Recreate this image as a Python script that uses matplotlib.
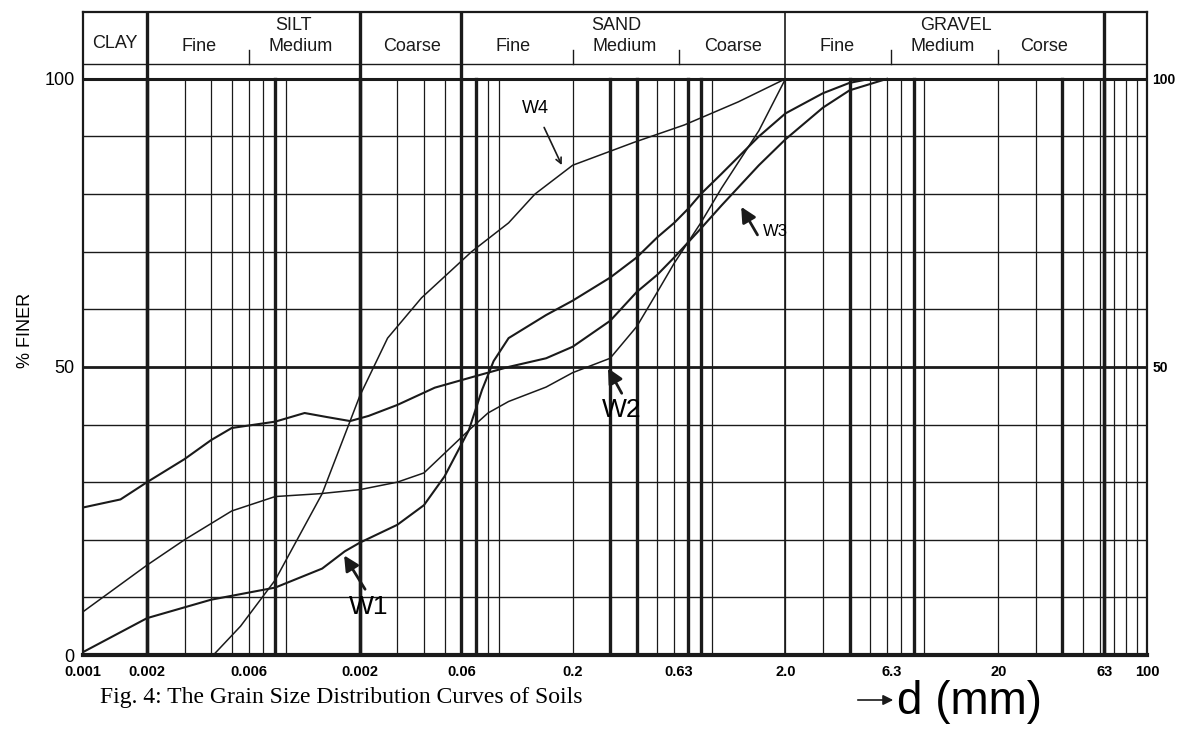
import numpy as np
import matplotlib
matplotlib.use("Agg")
import matplotlib.pyplot as plt

# ─── Curve data: grain size d (mm) vs % finer ───────────────
W1_D = [0.001, 0.002, 0.004, 0.008, 0.0133, 0.017, 0.02, 0.03, 0.04, 0.05, 0.065, 0.075,
        0.085, 0.1, 0.15, 0.2, 0.3, 0.4, 0.5, 0.6, 0.7, 0.8, 1.0, 1.5, 2.0, 3.0, 4.0, 5.0]
W1_P = [0.5, 6.4, 9.6, 11.7, 15, 18, 19.5, 22.6, 26, 31, 39, 46,
        51, 55, 59, 61.5, 65.5, 69, 72.5, 75, 77.5, 80, 83.5, 90, 94, 97.5, 99.3, 100]

W2_D = [0.001, 0.002, 0.003, 0.005, 0.008, 0.013, 0.02, 0.03, 0.04, 0.065, 0.08, 0.1,
        0.15, 0.2, 0.3, 0.4, 0.5, 0.6, 0.8, 1.0, 1.5, 2.0]
W2_P = [7.5, 15.6, 20, 25, 27.5, 28, 28.7, 30, 31.6, 39, 42, 44,
        46.5, 49, 51.5, 57, 63, 68, 75, 81, 91, 100]

W3_D = [0.001, 0.0015, 0.002, 0.003, 0.004, 0.005, 0.008, 0.011, 0.014, 0.018, 0.022,
        0.03, 0.045, 0.07, 0.1, 0.15, 0.2, 0.3, 0.4, 0.5, 0.6, 0.8, 1.0, 1.5, 2.0,
        3.0, 4.0, 6.0]
W3_P = [25.6, 27, 30, 34, 37.3, 39.4, 40.5, 42, 41.3, 40.6, 41.5,
        43.4, 46.4, 48.4, 50, 51.5, 53.5, 58, 63, 66, 69, 74, 78, 85, 89.5,
        95, 98, 100]

W4_D = [0.0041, 0.0055, 0.008, 0.0133, 0.02, 0.027, 0.039, 0.067, 0.1, 0.133, 0.2,
        0.39, 0.67, 1.2, 2.0]
W4_P = [0, 5, 13, 28, 45, 55, 62, 70, 75, 80, 85, 89, 92, 96, 100]

# ─── Axis labels / zones ────────────────────────────────────
X_TICKS = [0.001, 0.002, 0.006, 0.02, 0.06, 0.2, 0.63, 2.0, 6.3, 20, 63, 100]
X_LABELS = ["0.001", "0.002", "0.006", "0.002", "0.06", "0.2", "0.63", "2.0",
            "6.3", "20", "63", "100"]

ZONE_DIVS = [0.002, 0.02, 0.06, 2.0, 63]          # full-height header dividers
SUB_DIVS = [0.006, 0.2, 0.63, 6.3, 20]            # short header ticks
MAIN_ZONES = [("CLAY", 0.00141), ("SILT", 0.0098), ("SAND", 0.32), ("GRAVEL", 12.7)]
SUB_ZONES = [("Fine", 0.0035), ("Medium", 0.0105), ("Coarse", 0.035),
             ("Fine", 0.105), ("Medium", 0.35), ("Coarse", 1.13),
             ("Fine", 3.5), ("Medium", 11), ("Corse", 33)]

THICK_X = [0.002, 0.008, 0.02, 0.07, 0.3, 0.4, 0.7, 0.8, 4, 8, 10, 40, 63]

LINE = "#1a1a1a"

fig = plt.figure(figsize=(11.92, 7.53), dpi=100)
ax = fig.add_axes([83 / 1192, 1 - 655 / 753, (1147 - 83) / 1192, (655 - 12) / 753])
ax.set_xscale("log")
ax.set_xlim(0.001, 100)
ax.set_ylim(0, 111.6)
for s in ax.spines.values():
    s.set_linewidth(1.6)
    s.set_color(LINE)
ax.spines["bottom"].set_linewidth(3.0)

# vertical grid (log paper)
for k in range(-3, 2):
    for m in range(2, 10):
        x = m * 10.0 ** k
        lw = 2.4 if any(abs(x - t) / t < 1e-6 for t in THICK_X) else 0.9
        ax.plot([x, x], [0, 100], color=LINE, lw=lw, zorder=1)
ax.plot([63, 63], [0, 100], color=LINE, lw=2.4, zorder=1)

# horizontal grid
for p in range(10, 100, 10):
    ax.axhline(p, color=LINE, lw=2.0 if p == 50 else 1.0, zorder=1)
ax.axhline(100, color=LINE, lw=2.2, zorder=1)
ax.axhline(102.6, color=LINE, lw=1.0, zorder=1)

# header dividers
for x in ZONE_DIVS:
    ax.plot([x, x], [0, 111.6], color=LINE, lw=2.4 if x != 2.0 else 1.2, zorder=2)
for x in SUB_DIVS:
    ax.plot([x, x], [102.6, 105.0], color=LINE, lw=1.0, zorder=2)

hdr = dict(family="Liberation Sans", fontsize=13, ha="center", va="center", color=LINE)
for name, x in MAIN_ZONES:
    y = 106.2 if name == "CLAY" else 109.3
    ax.text(x, y, name, **hdr)
for name, x in SUB_ZONES:
    ax.text(x, 105.6, name, **hdr)

# curves
for d, p, lw in [(W1_D, W1_P, 1.5), (W2_D, W2_P, 1.1), (W3_D, W3_P, 1.5), (W4_D, W4_P, 1.1)]:
    ax.plot(d, p, color=LINE, lw=lw, zorder=3)

# curve labels
arrow = dict(arrowstyle="-|>,head_length=0.9,head_width=0.45", color=LINE, lw=2.0)
ax.annotate("", xy=(0.0166, 17.7), xytext=(0.0215, 11.0), arrowprops=arrow, zorder=4)
ax.text(0.022, 8.3, "W1", fontsize=19, family="Liberation Sans", ha="center", va="center")
ax.annotate("", xy=(0.289, 50.2), xytext=(0.345, 45.0), arrowprops=arrow, zorder=4)
ax.text(0.34, 42.5, "W2", fontsize=19, family="Liberation Sans", ha="center", va="center")
ax.annotate("", xy=(1.22, 78.2), xytext=(1.5, 72.5), arrowprops=arrow, zorder=4)
ax.text(1.8, 73.5, "W3", fontsize=12, family="Liberation Sans", ha="center", va="center")
ax.annotate("", xy=(0.18, 84.6), xytext=(0.145, 92.0),
            arrowprops=dict(arrowstyle="->", color=LINE, lw=1.2), zorder=4)
ax.text(0.133, 94.8, "W4", fontsize=13, family="Liberation Sans", ha="center", va="center")

# ticks
ax.set_xticks(X_TICKS)
ax.set_xticklabels(X_LABELS, fontsize=10.5, fontweight="bold", family="Liberation Sans")
ax.xaxis.set_minor_locator(matplotlib.ticker.NullLocator())
ax.tick_params(axis="x", length=0, pad=7)
ax.set_yticks([0, 50, 100])
ax.set_yticklabels(["0", "50", "100"], fontsize=13, family="Liberation Sans")
ax.tick_params(axis="y", length=0, pad=6)
ax2 = ax.twinx()
ax2.set_ylim(ax.get_ylim())
ax2.set_yticks([50, 100])
ax2.set_yticklabels(["50", "100"], fontsize=10, fontweight="bold", family="Liberation Sans")
ax2.tick_params(axis="y", length=0, pad=4)
for s in ax2.spines.values():
    s.set_visible(False)

fig.text(25 / 1192, 1 - 330 / 753, "% FINER", rotation=90, fontsize=13,
         family="Liberation Sans", ha="center", va="center")

fig.text(100 / 1192, 1 - 698 / 753, "Fig. 4: The Grain Size Distribution Curves of Soils",
         fontsize=17, family="Liberation Serif", ha="left", va="center")
fig.text(897 / 1192, 1 - 702 / 753, "d (mm)", fontsize=33, family="Liberation Sans",
         ha="left", va="center")
fig.patches.append(matplotlib.patches.FancyArrowPatch(
    (855 / 1192, 1 - 700 / 753), (896 / 1192, 1 - 700 / 753), transform=fig.transFigure,
    arrowstyle="-|>,head_length=6,head_width=3", color=LINE, lw=1.2))

fig.savefig("out.png", dpi=100)
